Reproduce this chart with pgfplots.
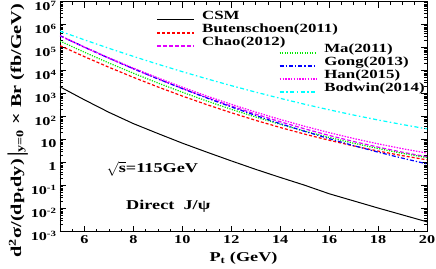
\documentclass[border=0pt]{standalone}
\usepackage{fontspec}
\setmainfont{Liberation Serif}[FakeStretch=1.35]
\usepackage{pgfplots}
\usepackage{pgfplotstable}
\pgfplotsset{compat=1.18}
\definecolor{cRed}{RGB}{255,0,0}
\definecolor{cMag}{RGB}{255,0,255}
\definecolor{cVio}{RGB}{225,0,255}
\definecolor{cGreen}{RGB}{0,235,0}
\definecolor{cBlue}{RGB}{0,0,255}
\definecolor{cCyan}{RGB}{0,255,255}

\pgfplotstableread{
x    csm      but      chao     ma       gong     han      bod
5    1995     1.23e5   3.31e5   1.95e5   3.31e5   3.31e5   5.25e5
6    540      4.06e4   1.04e5   6.34e4   1.06e5   1.07e5   2.19e5
7    155      1.41e4   3.46e4   2.16e4   3.52e4   3.64e4   9.42e4
8    50.0     5.14e3   1.21e4   7.76e3   1.22e4   1.30e4   4.18e4
9    18.6     1.97e3   4.41e3   2.92e3   4.43e3   4.88e3   1.92e4
10   7.08     791      1.69e3   1.16e3   1.66e3   1.92e3   9.08e3
11   2.88     334      682      481      652      794      4.44e3
12   1.20     149      290      210      266      346      2.24e3
13   0.513    69.3     129      96.6     113      158      1.17e3
14   0.229    34.0     60.4     46.6     50.0     75.9     628
15   0.105    17.5     29.7     23.6     23.1     38.3     348
16   0.0447   9.46     15.3     12.6     11.1     20.3     200
17   0.0219   5.38     8.34     7.03     5.53     11.3     118
18   0.0107   3.21     4.75     4.13     2.88     6.61     72.1
19   0.00537  2.02     2.85     2.55     1.57     4.06     45.5
20   0.00269  1.33     1.79     1.66     0.885    2.62     29.5
}\datatable

\pgfplotsset{
  every axis/.append style={
    width=367pt, height=230pt, scale only axis,
    xmin=5, xmax=20, ymin=1e-3, ymax=1e7,
    axis line style={line width=0.9pt},
    every tick/.style={line width=0.7pt, black},
    major tick length=6pt, minor tick length=3pt,
    tick align=inside,
    legend cell align=left,
  },
  legend image code/.code={\draw[#1] (0pt,-3pt) -- (37pt,-3pt);},
}

\begin{document}
\begin{tikzpicture}
\path[use as bounding box] (-60pt,-36.3pt) rectangle (376pt,231.7pt);
\begin{semilogyaxis}[
  xtick={4,6,...,20}, minor x tick num=3,
  ytick={1e-3,1e-2,1e-1,1,10,1e2,1e3,1e4,1e5,1e6,1e7},
  yticklabels={10\textsuperscript{-3},10\textsuperscript{-2},10\textsuperscript{-1},1,10,10\textsuperscript{2},10\textsuperscript{3},10\textsuperscript{4},10\textsuperscript{5},10\textsuperscript{6},10\textsuperscript{7}},
  /pgf/number format/assume math mode=true,
  ticklabel style={font=\fontsize{12}{12}\selectfont\bfseries},
  yticklabel style={yshift=-4pt},
  xlabel={P\textsubscript{t} (GeV)},
  xlabel style={font=\fontsize{13.5}{14}\selectfont\bfseries, at={(axis description cs:0.5,-0.115)}, anchor=center},
  ylabel={d\textsuperscript{2}σ/(dp\textsubscript{t}dy)\,\raisebox{-2pt}{\scalebox{1}[1.5]{|}}\textsubscript{y=0} × Br (fb/GeV)},
  ylabel style={font=\fontsize{15}{15}\selectfont\bfseries, at={(axis description cs:-0.115,0.44)}, anchor=center},
  legend style={draw=none, fill=none, inner sep=0pt, outer sep=0pt,
    font=\fontsize{12.5}{13}\selectfont\bfseries, row sep=0pt,
    nodes={inner ysep=0pt, inner xsep=7pt, text height=9pt, text depth=4pt},
    at={(axis description cs:0.264,0.962)}, anchor=north west},
]
\addplot[black, line width=1pt] table[x=x,y=csm] {\datatable};
\addlegendentry{CSM}
\addplot[cRed, line width=1.2pt, dash pattern=on 3pt off 2pt] table[x=x,y=but] {\datatable};
\addlegendentry{Butenschoen(2011)}
\addplot[cVio, line width=1.2pt, dash pattern=on 4pt off 2pt] table[x=x,y=chao] {\datatable};
\addlegendentry{Chao(2012)}
\node[font=\fontsize{13.5}{13.5}\selectfont\bfseries] at (axis description cs:0.252,0.273) {$\sqrt{\hbox{\bfseries s}}$=115GeV};
\node[font=\fontsize{13.5}{13.5}\selectfont\bfseries] at (axis description cs:0.295,0.112) {Direct\ \ J/ψ};
\end{semilogyaxis}
\begin{semilogyaxis}[hide axis,
  legend style={draw=none, fill=none, inner sep=0pt, outer sep=0pt,
    font=\fontsize{12.5}{13}\selectfont\bfseries, row sep=0pt,
    nodes={inner ysep=0pt, inner xsep=7pt, text height=9pt, text depth=4pt},
    at={(axis description cs:0.597,0.818)}, anchor=north west},
]
\addplot[cGreen, line width=1.2pt, dash pattern=on 1.2pt off 1.3pt] table[x=x,y=ma] {\datatable};
\addlegendentry{Ma(2011)}
\addplot[cBlue, line width=1.2pt, dash pattern=on 4pt off 2pt on 1.3pt off 2pt] table[x=x,y=gong] {\datatable};
\addlegendentry{Gong(2013)}
\addplot[cMag, line width=1.2pt, dash pattern=on 1.5pt off 1.3pt] table[x=x,y=han] {\datatable};
\addlegendentry{Han(2015)}
\addplot[cCyan, line width=1.2pt, dash pattern=on 4pt off 2.5pt on 1.5pt off 2.5pt] table[x=x,y=bod] {\datatable};
\addlegendentry{Bodwin(2014)}
\end{semilogyaxis}
\end{tikzpicture}
\end{document}
